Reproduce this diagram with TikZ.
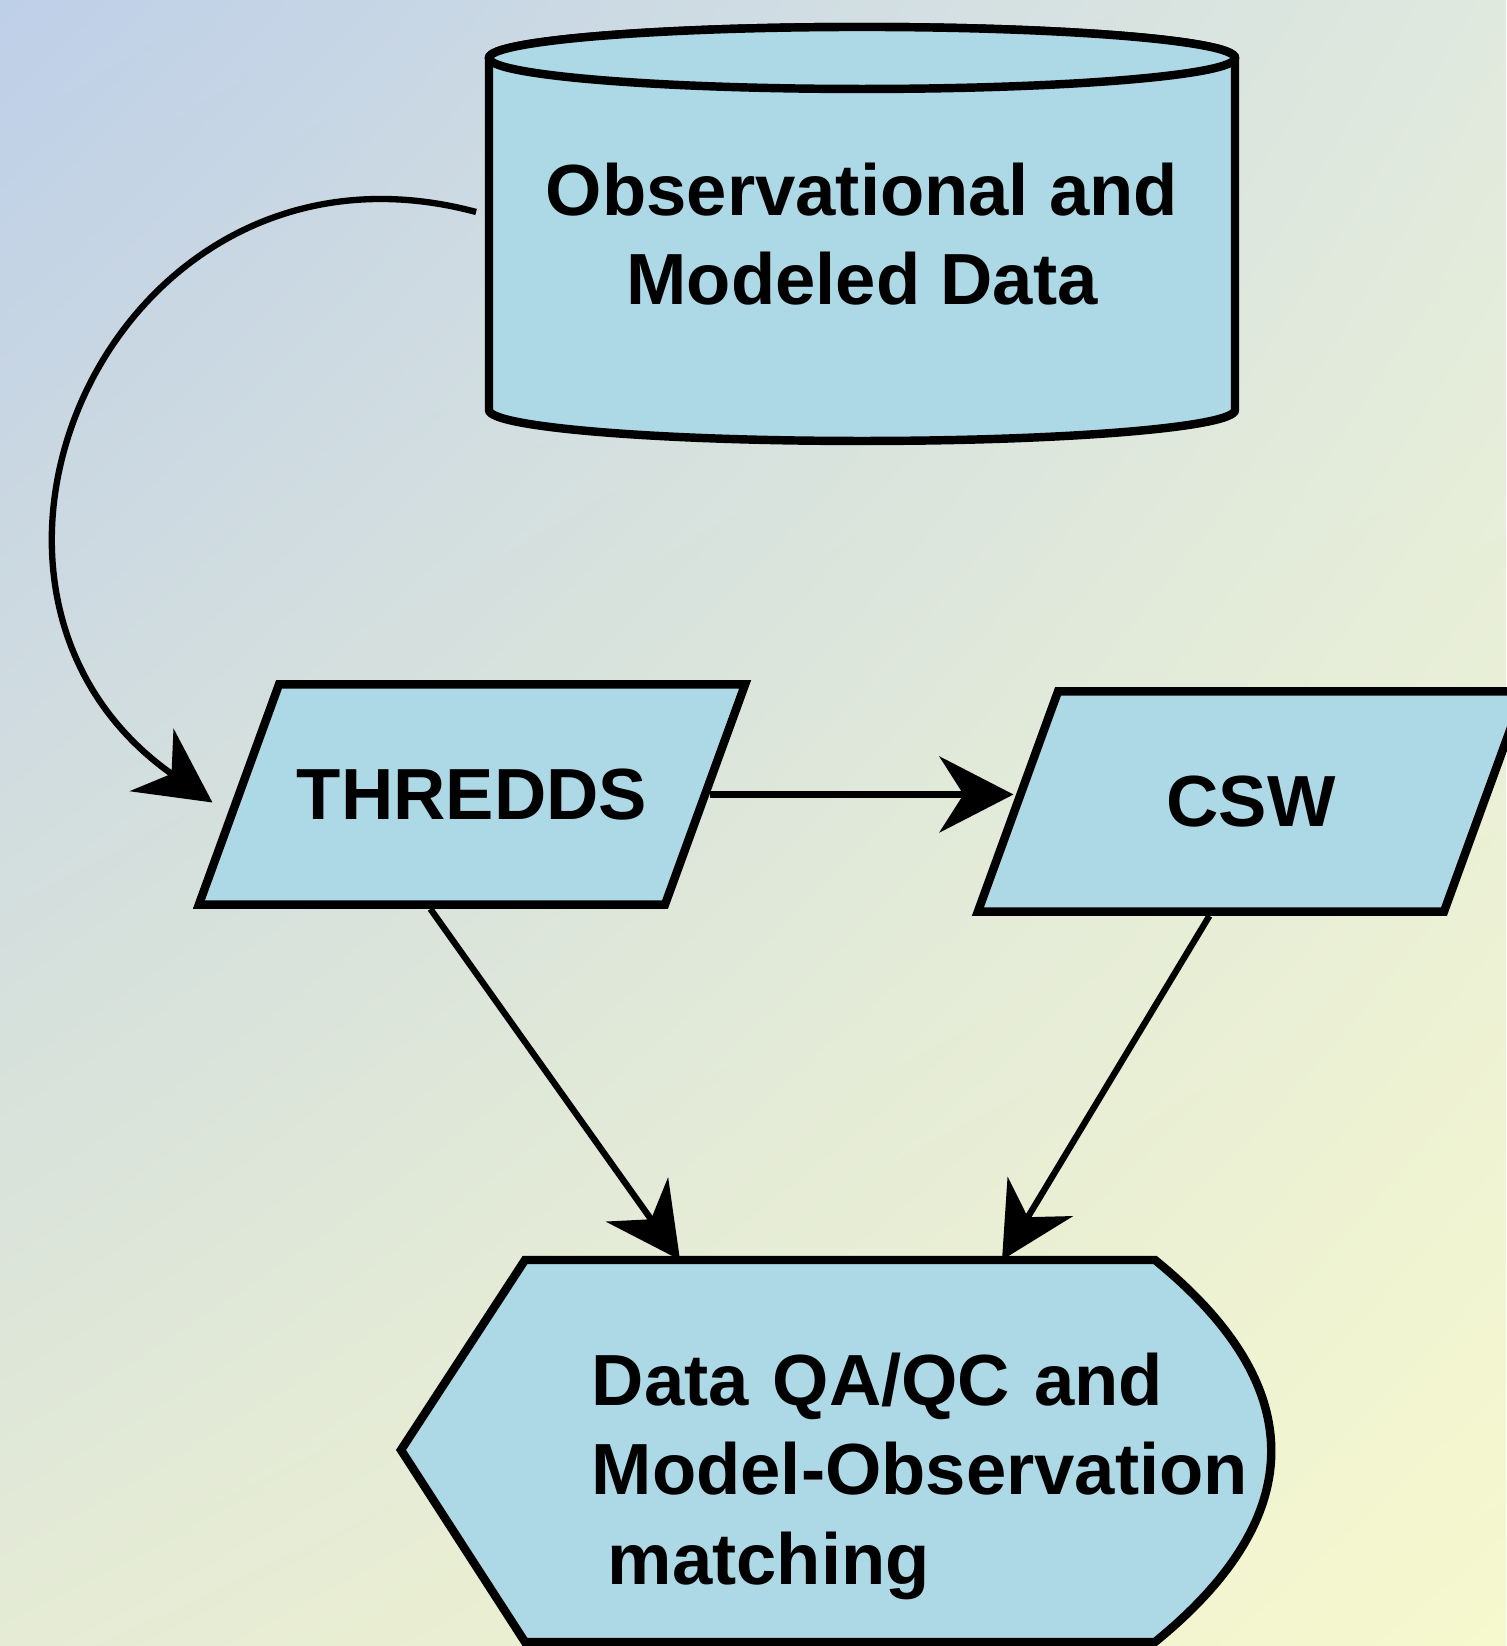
\documentclass[tikz,border=0pt]{standalone}
\usepackage{fontspec}
\setmainfont{Liberation Sans}
\usetikzlibrary{shapes.geometric,arrows.meta,shadings}

\definecolor{boxblue}{RGB}{173,216,230}
\definecolor{bgul}{RGB}{190,207,232}
\definecolor{bgur}{RGB}{224,233,222}
\definecolor{bgll}{RGB}{229,235,213}
\definecolor{bglr}{RGB}{246,248,205}

\begin{document}
\begin{tikzpicture}[x=0.01cm,y=0.01cm,
		boxline/.style={draw=black,line width=2.4pt,fill=boxblue},
		txt/.style={font=\fontsize{20.6}{25.5}\selectfont\bfseries,inner sep=0pt},
		slanted/.style={boxline,txt,trapezium,trapezium left angle=70,trapezium right angle=110,
			trapezium stretches body=true,inner xsep=0pt,inner ysep=0.845cm,minimum width=5.46cm},
		conn/.style={line width=1.8pt,-{Stealth[length=7.4mm,width=7.6mm]}}]
			\useasboundingbox (0,0) rectangle (1506,1646);
			\shade[upper left=bgul,upper right=bgur,lower left=bgll,lower right=bglr] (0,0) rectangle (1506,1646);
			% data store
			\filldraw[boxline] (489,1588) -- (489,1236) arc[start angle=180,end angle=360,x radius=373,y radius=31]
				-- (1235,1588) arc[start angle=0,end angle=180,x radius=373,y radius=31] -- cycle;
			\draw[boxline] (862,1588) ellipse[x radius=373,y radius=31];
			\node[txt,align=center,minimum width=7.46cm,minimum height=4.14cm] (data) at (862,1412) {Observational and\\Modeled Data};
			% services
			\node[slanted] (thredds) at (472,851.5) {THREDDS};
			\node[slanted] (csw) at (1251,844.5) {CSW};
			% QA/QC display shape
			\filldraw[boxline] (401,196) -- (525,386) -- (1155,386) .. controls (1310,260) and (1310,130) .. (1155,4) -- (525,4) -- cycle;
			\coordinate (qctop) at (840,386);
			\node[txt,align=left,text width=6.8cm,anchor=north west] (qc) at (591,294) {Data QA/QC and\\Model-Observation\\\hspace{0.16cm}matching};
			% connectors
			\draw[conn] ([shift={(-12,22)}]data.west) .. controls +(165:375) and +(145:375) .. ([shift={(-22,-8)}]thredds.west);
			\draw[conn] (thredds.east) -- (thredds.east -| csw.west);
			\draw[conn] (thredds.bottom side) -- ([shift={(-160,0)}]qctop);
			\draw[conn] (csw.bottom side) -- ([shift={(162,0)}]qctop);
		\end{tikzpicture}
\end{document}
